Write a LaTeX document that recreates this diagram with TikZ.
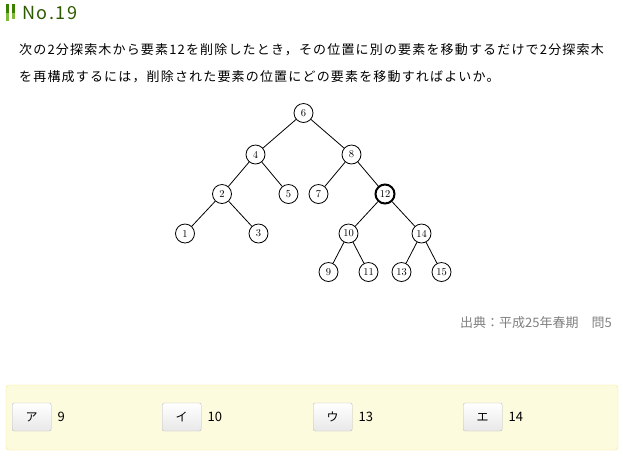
\documentclass[tikz,border=0pt]{standalone}
\usepackage{fontspec}
\newfontfamily\jpfont[LetterSpace=9]{Noto Sans CJK JP}
\newfontfamily\jpplain{Noto Sans CJK JP}
\begin{document}
\begin{tikzpicture}[x=1pt,y=-1pt]
      % Color definitions
      \definecolor{titlegreen}{RGB}{45,90,0}   % dark green
      \definecolor{bardark}{RGB}{58,128,0}     % bar top
      \definecolor{barlight}{RGB}{128,184,58}  % bar bottom
      \definecolor{ansfill}{RGB}{253,251,221}  % light yellow
      \definecolor{ansline}{RGB}{240,230,140}
      \definecolor{btnline}{RGB}{188,188,188}
      \definecolor{srcgray}{RGB}{128,128,128}

      \tikzset{
        key/.style={circle,draw,line width=0.8pt,minimum size=19pt,inner sep=0pt,
          font=\fontsize{10.5}{10.5}\selectfont},
        link/.style={line width=0.8pt},
        jptext/.style={anchor=west,inner sep=0pt,font=\jpfont\fontsize{13}{13}\selectfont},
        btn/.style={draw=btnline,rounded corners=2pt,top color=white,bottom color=black!9,
          minimum width=39pt,minimum height=28pt,inner sep=0pt,
          font=\jpplain\fontsize{12}{12}\selectfont}
      }
      \useasboundingbox (0,0) rectangle (623,459);

      % Heading
      \fill[bardark] (6,4) rectangle (9,13);
      \fill[barlight] (6,13) rectangle (9,21);
      \fill[bardark] (12,4) rectangle (15,13);
      \fill[barlight] (12,13) rectangle (15,19);
      \node[anchor=west,inner sep=0pt,text=titlegreen,font=\jpfont\fontsize{18}{18}\selectfont]
        (title) at (22,13) {No.19};

      % Question
      \node[jptext] (q1) at (19,50) {次の2分探索木から要素12を削除したとき，その位置に別の要素を移動するだけで2分探索木};
      \node[jptext] (q2) at (19,77) {を再構成するには，削除された要素の位置にどの要素を移動すればよいか。};

      % Binary search tree
      \node[key] (n6) at (303.5,113) {6};
      \node[key] (n4) at (255.5,154.5) {4};
      \node[key] (n8) at (351.5,154.5) {8};
      \node[key] (n2) at (222,194) {2};
      \node[key] (n5) at (288.5,194) {5};
      \node[key] (n7) at (318.5,194) {7};
      \node[key,line width=2pt] (n12) at (385,194) {12};
      \node[key] (n1) at (185,233.5) {1};
      \node[key] (n3) at (258.5,233.5) {3};
      \node[key] (n10) at (348.5,233.5) {10};
      \node[key] (n14) at (421.5,233.5) {14};
      \node[key] (n9) at (328.5,272) {9};
      \node[key] (n11) at (368.5,272) {11};
      \node[key] (n13) at (401.5,272) {13};
      \node[key] (n15) at (441.5,272) {15};
      \foreach \a/\b in {n6/n4,n6/n8,n4/n2,n4/n5,n2/n1,n2/n3,n8/n7,n8/n12,
                         n12/n10,n12/n14,n10/n9,n10/n11,n14/n13,n14/n15}
        \draw[link] (\a) -- (\b);

      % Source
      \node[anchor=east,inner sep=0pt,text=srcgray,font=\jpplain\fontsize{13}{13}\selectfont]
        (src) at (612,323) {出典：平成25年春期　問5};

      % Answer choices
      \draw[ansline,fill=ansfill,rounded corners=3pt] (6,385) rectangle (618,450);
      \foreach \k/\x/\v in {a/12/9,b/162/10,c/313/13,d/463/14}{
        \node[btn,anchor=west] (btn\k) at (\x,417) {};
        \node[anchor=west,inner sep=0pt,font=\jpplain\fontsize{13}{13}\selectfont]
          (val\k) at ([xshift=6pt]btn\k.east) {\v};}
      \node at (btna) {\jpplain\fontsize{12}{12}\selectfont ア};
      \node at (btnb) {\jpplain\fontsize{12}{12}\selectfont イ};
      \node at (btnc) {\jpplain\fontsize{12}{12}\selectfont ウ};
      \node at (btnd) {\jpplain\fontsize{12}{12}\selectfont エ};
    \end{tikzpicture}
\end{document}
